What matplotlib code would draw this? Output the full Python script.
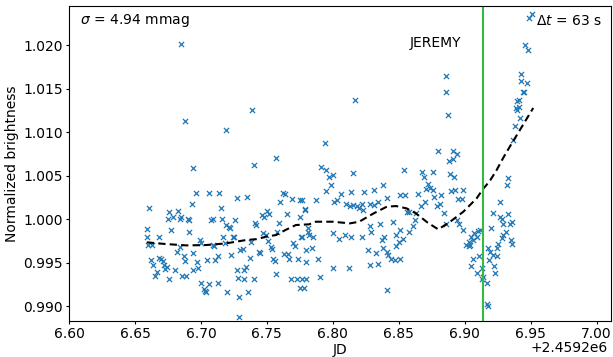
import numpy as np
import matplotlib
matplotlib.use("Agg")
from matplotlib import pyplot as plt
from matplotlib import transforms

JD0 = 2459200.0

# light curve points, (JD - JD0, normalized brightness)
pts_early = [
    (6.659, 0.9989), (6.661, 1.0013), (6.659, 0.9980), (6.660, 0.9971), (6.663, 0.9971),
    (6.668, 0.9980), (6.662, 0.9953), (6.664, 0.9948), (6.665, 0.9935), (6.667, 0.9940),
    (6.668, 0.9956), (6.670, 0.9955), (6.671, 0.9952), (6.672, 0.9947), (6.673, 0.9943),
    (6.674, 0.9945), (6.676, 1.0009), (6.675, 1.0001), (6.677, 0.9988), (6.676, 0.9932),
    (6.680, 0.9942), (6.679, 1.0003), (6.682, 0.9962), (6.683, 1.0010), (6.684, 1.0001),
    (6.685, 1.0003), (6.684, 0.9968), (6.686, 0.9935), (6.687, 0.9958), (6.688, 0.9952),
    (6.690, 1.0001), (6.691, 0.9999), (6.691, 0.9986), (6.693, 1.0018), (6.694, 0.9961),
    (6.694, 0.9942), (6.689, 0.9935), (6.696, 1.0030), (6.697, 0.9951), (6.698, 0.9944),
    (6.699, 0.9976), (6.700, 0.9973), (6.700, 0.9927), (6.702, 0.9920), (6.703, 0.9918),
    (6.704, 0.9917), (6.705, 0.9953), (6.706, 1.0030), (6.706, 0.9926), (6.708, 0.9999),
    (6.709, 1.0000), (6.709, 0.9970), (6.710, 0.9969), (6.711, 0.9953), (6.713, 0.9958),
    (6.714, 1.0030), (6.715, 1.0013), (6.713, 0.9927), (6.716, 1.0001), (6.717, 0.9980),
    (6.718, 0.9973), (6.719, 0.9994), (6.721, 0.9991), (6.720, 0.9916), (6.722, 0.9990),
    (6.723, 0.9959), (6.724, 0.9980), (6.725, 0.9980), (6.726, 0.9999), (6.727, 1.0025),
    (6.727, 0.9942), (6.728, 0.9933), (6.729, 0.9911), (6.729, 0.9888), (6.730, 0.9965),
    (6.732, 0.9966), (6.733, 0.9942), (6.734, 0.9945), (6.733, 0.9931), (6.735, 1.0026),
    (6.736, 0.9917), (6.737, 0.9956), (6.738, 0.9974), (6.740, 0.9931), (6.741, 0.9996),
    (6.742, 0.9994), (6.744, 0.9963), (6.745, 0.9961), (6.746, 1.0005), (6.748, 1.0003),
    (6.747, 0.9984), (6.749, 0.9982), (6.750, 1.0010), (6.752, 1.0006), (6.751, 0.9975),
    (6.753, 0.9968), (6.754, 0.9966), (6.755, 0.9955), (6.756, 0.9952), (6.757, 0.9937),
    (6.758, 0.9986), (6.759, 0.9996), (6.760, 1.0020), (6.762, 1.0030), (6.764, 1.0029),
    (6.765, 1.0006), (6.763, 0.9960), (6.766, 0.9960), (6.767, 0.9955), (6.768, 0.9931),
    (6.769, 1.0023), (6.770, 0.9973), (6.771, 0.9969), (6.773, 0.9931), (6.774, 0.9954),
    (6.775, 1.0003), (6.776, 0.9980), (6.777, 1.0022), (6.778, 0.9921), (6.779, 1.0011),
    (6.780, 0.9931), (6.781, 0.9985),
]

pts_middle = [
    (6.775, 1.0022), (6.779, 1.0012), (6.777, 0.9980), (6.781, 0.9990), (6.782, 0.9982),
    (6.785, 0.9980), (6.780, 0.9965), (6.784, 0.9967), (6.789, 0.9955), (6.780, 0.9951),
    (6.777, 0.9932), (6.775, 0.9921), (6.790, 0.9934), (6.787, 1.0022), (6.795, 1.0033),
    (6.799, 1.0040), (6.800, 0.9984), (6.801, 1.0020), (6.803, 1.0022), (6.805, 0.9978),
    (6.806, 1.0029), (6.809, 0.9982), (6.810, 1.0018), (6.813, 1.0015), (6.814, 1.0031),
    (6.814, 0.9980), (6.815, 1.0017), (6.818, 1.0015), (6.820, 1.0013), (6.822, 1.0018),
    (6.823, 1.0011), (6.822, 0.9980), (6.812, 0.9944), (6.800, 0.9944), (6.824, 1.0031),
    (6.827, 0.9965), (6.828, 1.0018), (6.828, 0.9992), (6.828, 0.9948), (6.829, 0.9986),
    (6.831, 1.0034), (6.831, 1.0017), (6.833, 0.9961), (6.834, 1.0020), (6.834, 0.9949),
    (6.836, 0.9995), (6.837, 0.9976), (6.838, 1.0039), (6.838, 0.9967), (6.839, 0.9980),
    (6.841, 1.0024), (6.841, 0.9963), (6.841, 0.9919), (6.842, 0.9959), (6.844, 0.9955),
    (6.846, 0.9997), (6.847, 0.9953), (6.848, 0.9982), (6.848, 0.9969), (6.850, 0.9974),
    (6.851, 1.0028), (6.851, 0.9988), (6.851, 0.9955), (6.853, 0.9978), (6.855, 1.0028),
    (6.856, 1.0009), (6.858, 1.0009), (6.858, 0.9986), (6.861, 0.9992), (6.862, 0.9999),
    (6.863, 1.0007), (6.865, 1.0029), (6.867, 1.0015), (6.870, 1.0020), (6.871, 1.0035),
    (6.872, 1.0041), (6.874, 1.0036), (6.876, 1.0034), (6.877, 1.0026), (6.879, 1.0015),
    (6.881, 1.0018), (6.882, 1.0028), (6.884, 1.0007), (6.886, 0.9995), (6.890, 1.0033),
    (6.893, 1.0034), (6.894, 0.9999), (6.895, 1.0023), (6.896, 0.9995), (6.898, 1.0023),
    (6.899, 1.0034), (6.899, 0.9988), (6.901, 0.9971), (6.903, 0.9974), (6.903, 0.9969),
    (6.904, 0.9971), (6.905, 0.9980), (6.906, 0.9976), (6.907, 0.9984), (6.909, 0.9980),
    (6.910, 0.9987), (6.912, 0.9988), (6.906, 0.9955), (6.905, 0.9946), (6.909, 0.9938),
    (6.911, 0.9958), (6.913, 0.9944), (6.914, 0.9934), (6.913, 0.9932),
]

pts_late = [
    (6.9326, 1.0047), (6.9318, 1.0040), (6.9265, 1.0020), (6.9217, 1.0007), (6.9268, 1.0003),
    (6.9280, 1.0001), (6.9326, 1.0006), (6.9356, 0.9997), (6.9344, 0.9995), (6.9293, 0.9995),
    (6.9199, 0.9990), (6.9310, 0.9986), (6.9293, 0.9982), (6.9280, 0.9979), (6.9350, 0.9976),
    (6.9356, 0.9972), (6.9255, 0.9972), (6.9242, 0.9967), (6.9179, 0.9967), (6.9192, 0.9963),
    (6.9217, 0.9959), (6.9249, 0.9958), (6.9186, 0.9953), (6.9224, 0.9946), (6.9229, 0.9938),
    (6.9166, 0.9927), (6.9166, 0.9903), (6.9179, 0.9900),
]

# points well above the main band
pts_high = [
    (6.685, 1.0201), (6.688, 1.0113), (6.694, 1.0059), (6.719, 1.0103), (6.739, 1.0126),
    (6.740, 1.0063), (6.757, 1.0071), (6.949, 1.0231), (6.951, 1.0236), (6.946, 1.0200),
    (6.948, 1.0195), (6.943, 1.0167), (6.943, 1.0159), (6.947, 1.0157), (6.944, 1.0146),
    (6.945, 1.0146), (6.940, 1.0136), (6.941, 1.0137), (6.939, 1.0128), (6.941, 1.0129),
    (6.940, 1.0126), (6.942, 1.0116), (6.938, 1.0107), (6.937, 1.0091), (6.817, 1.0137),
    (6.886, 1.0165), (6.886, 1.0146), (6.887, 1.0120), (6.794, 1.0088), (6.880, 1.0079),
    (6.891, 1.0078), (6.894, 1.0075), (6.888, 1.0067), (6.891, 1.0069), (6.791, 1.0060),
    (6.795, 1.0057), (6.800, 1.0051), (6.797, 1.0049), (6.815, 1.0053), (6.854, 1.0057),
    (6.868, 1.0054), (6.869, 1.0049), (6.876, 1.0054), (6.889, 1.0052), (6.892, 1.0049),
]

# smoothed trend (dashed)
trend_t = [6.659, 6.673, 6.689, 6.704, 6.719, 6.734, 6.743, 6.749, 6.757, 6.764,
           6.772, 6.782, 6.787, 6.800, 6.813, 6.820, 6.831, 6.841, 6.848, 6.856,
           6.863, 6.872, 6.880, 6.889, 6.899, 6.909, 6.914, 6.919, 6.924, 6.929,
           6.934, 6.942, 6.952]
trend_f = [0.99736, 0.99717, 0.99701, 0.99705, 0.99724, 0.99762, 0.99774, 0.9980, 0.9982, 0.99877,
           0.99935, 0.99943, 0.99973, 0.99973, 0.99954, 0.99973, 1.00069, 1.00146, 1.00153, 1.00126,
           1.00069, 0.99962, 0.99885, 0.99973, 1.00088, 1.0024, 1.0035, 1.0044, 1.0056, 1.0070,
           1.0083, 1.0103, 1.0128]

t_event = 6.9137
sigma_mmag = 4.94
dt_s = 63

pts = np.array(pts_early + pts_middle + pts_late + pts_high)
t = pts[:, 0] + JD0
f = pts[:, 1]

fig = plt.figure(figsize=(6.13, 3.57), dpi=100)
ax = fig.add_axes([0.1126, 0.1008, 0.8842, 0.8824])

ax.scatter(t, f, marker="x", s=14, linewidths=0.9, color="tab:blue")
ax.plot(np.array(trend_t) + JD0, trend_f, color="k", ls="--", lw=1.5, dashes=(3.5, 2))
ax.axvline(t_event + JD0, color="#33bb44", lw=1.5)

ax.set_xlim(6.60 + JD0, 7.011 + JD0)
ax.set_ylim(0.98832, 1.02452)
ax.set_xticks(np.arange(6.60, 7.001, 0.05) + JD0)
ax.set_yticks([0.990, 0.995, 1.000, 1.005, 1.010, 1.015, 1.020])

ax.text(0.02, 0.955, r"$\sigma$ = %.2f mmag" % sigma_mmag, transform=ax.transAxes,
        ha="left", va="center", fontsize=10)
ax.text(0.983, 0.952, r"$\Delta t$ = %d s" % dt_s, transform=ax.transAxes,
        ha="right", va="center", fontsize=10)
ax.text(t_event + JD0 - 0.016, 1.0203, "JEREMY", ha="right", va="center", fontsize=10)

ax.tick_params(labelsize=10, length=2.5, pad=2)
ax.set_xlabel("JD", fontsize=10, labelpad=1)
ax.set_ylabel("Normalized brightness", fontsize=10, labelpad=3)

# nudge the offset text up and left so it stays inside the picture
off = ax.xaxis.get_offset_text()
off.set_x(0.994)
off.set_transform(off.get_transform() + transforms.ScaledTranslation(0, 0.04, fig.dpi_scale_trans))

fig.savefig("out.png", dpi=100)
